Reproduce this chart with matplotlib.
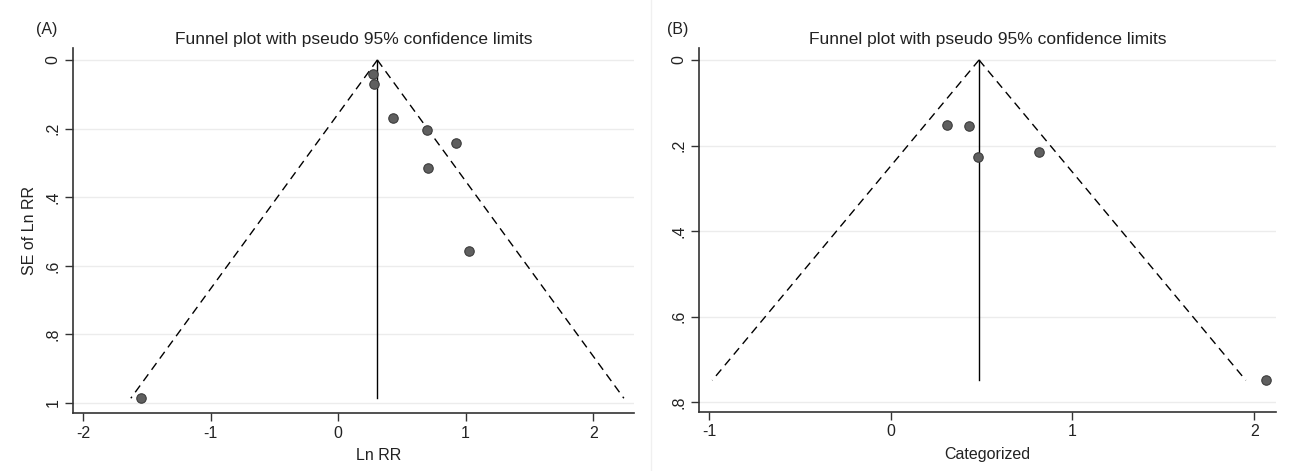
import numpy as np
import matplotlib.pyplot as plt

# Panel A: Ln RR vs SE of Ln RR
lnrr_a = [0.275, 0.285, 0.429, 0.695, 0.925, 0.703, 1.028, -1.542]
se_a = [0.040, 0.070, 0.169, 0.204, 0.243, 0.315, 0.558, 0.986]
theta_a = 0.308

# Panel B: Categorized
cat_b = [0.307, 0.430, 0.482, 0.818, 2.064]
se_b = [0.151, 0.154, 0.227, 0.214, 0.749]
theta_b = 0.486

xticks_a = [-2, -1, 0, 1, 2]
yticks_a = [0, 0.2, 0.4, 0.6, 0.8, 1.0]
yticklabels_a = ["0", ".2", ".4", ".6", ".8", "1"]
xticks_b = [-1, 0, 1, 2]
yticks_b = [0, 0.2, 0.4, 0.6, 0.8]
yticklabels_b = ["0", ".2", ".4", ".6", ".8"]

title = "Funnel plot with pseudo 95% confidence limits"

plt.rcParams['font.family'] = ['Liberation Sans', 'DejaVu Sans']
plt.rcParams['axes.unicode_minus'] = False
txt = '#222222'

fig = plt.figure(figsize=(12.92, 4.71), dpi=100)
W, H = 1292, 471


def funnel(ax, x, se, theta, xticks, yticks, ylabels, xlim, ylim):
    smax = max(se)
    s = np.array([0, smax])
    ax.plot(theta - 1.96 * s, s, color='black', lw=1.0, ls=(0, (6, 4)))
    ax.plot(theta + 1.96 * s, s, color='black', lw=1.0, ls=(0, (6, 4)))
    ax.plot([theta, theta], [0, smax], color='black', lw=1.0)
    ax.plot(x, se, 'o', ms=6.8, mfc='#5f5f5f', mec='#3c3c3c', mew=0.8, zorder=5)
    ax.set_xlim(*xlim)
    ax.set_ylim(*ylim)
    ax.set_xticks(xticks)
    ax.set_yticks(yticks)
    ax.set_yticklabels(ylabels, rotation=90, va='center')
    ax.yaxis.grid(True, color='#ececec', lw=1.0)
    ax.set_axisbelow(True)
    for side in ['top', 'right']:
        ax.spines[side].set_visible(False)
    for side in ['left', 'bottom']:
        ax.spines[side].set_color('#333333')
        ax.spines[side].set_linewidth(1.2)
    ax.tick_params(direction='out', length=6, width=1, color='#333333',
                   labelsize=11.5, labelcolor=txt, pad=3)


# axes rectangles in pixels: left, right, top, bottom
axA = fig.add_axes([73 / W, (H - 413) / H, (634 - 73) / W, (413 - 48) / H])
axB = fig.add_axes([699 / W, (H - 412) / H, (1276 - 699) / W, (412 - 48) / H])

funnel(axA, lnrr_a, se_a, theta_a, xticks_a, yticks_a, yticklabels_a,
       (-2.078, 2.32), (1.029, -0.035))
funnel(axB, cat_b, se_b, theta_b, xticks_b, yticks_b, yticklabels_b,
       (-1.055, 2.12), (0.823, -0.028))

axA.set_ylabel("SE of Ln RR", fontsize=11.5, color=txt)
axA.yaxis.set_label_coords((37 - 73) / (634 - 73), 0.5)
axA.set_xlabel("Ln RR", fontsize=11.5, color=txt)
axA.xaxis.set_label_coords((379 - 73) / (634 - 73), -0.095)
axB.set_xlabel("Categorized", fontsize=11.5, color=txt)
axB.xaxis.set_label_coords(0.5, -0.095)

fig.text(354 / W, 1 - 44 / H, title, fontsize=12.5, color=txt, ha='center', va='baseline')
fig.text(36 / W, 1 - 34 / H, "(A)", fontsize=11.5, color=txt, ha='left', va='baseline')
fig.text(988 / W, 1 - 44 / H, title, fontsize=12.5, color=txt, ha='center', va='baseline')
fig.text(667 / W, 1 - 34 / H, "(B)", fontsize=11.5, color=txt, ha='left', va='baseline')

# faint separator between the two panels
fig.add_artist(plt.Line2D([651 / W, 651 / W], [0, 1], color='#f0f0f0', lw=1))

fig.savefig("out.png", dpi=100)
